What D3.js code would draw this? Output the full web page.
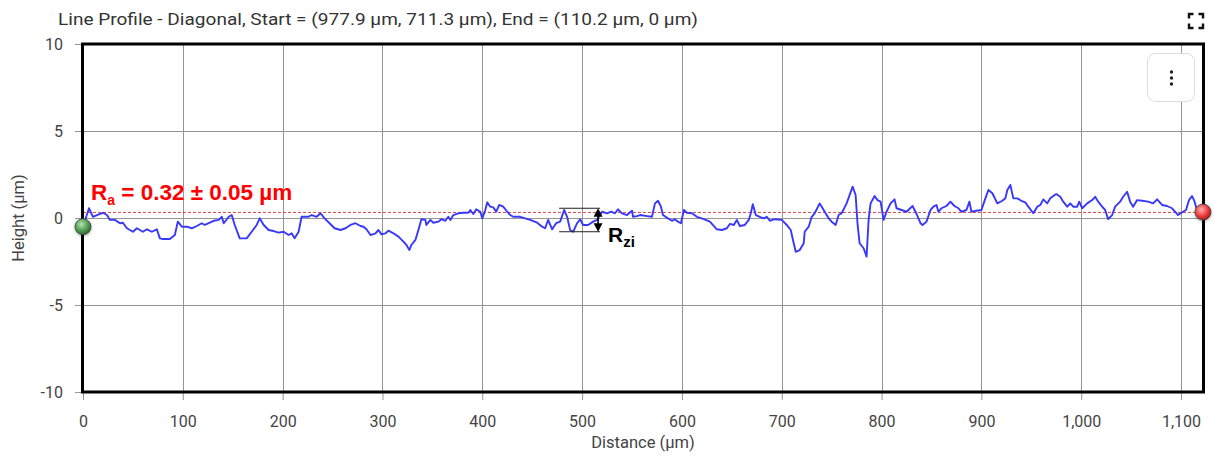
<!DOCTYPE html>
<html>
<head>
<meta charset="utf-8">
<script src="https://cdn.jsdelivr.net/npm/d3@7"></script>
<style>
  body { margin: 0; background: #fff; }
  svg { display: block; font-family: Roboto, "Liberation Sans", sans-serif; }
</style>
</head>
<body>
<svg id="chart" width="1213" height="457"></svg>
<script>
// Profile samples: distance along the diagonal (µm) and surface height (µm)
const distance = [
  0,6,10,14,20,24,27,32,37,40,44,47,50,54,57,60,64,69,74,77,80,87,92,95,99,104,109,114,119,122,
  126,131,136,139,141,146,149,152,157,164,169,174,177,181,186,191,196,201,206,209,212,216,219,226,229,234,238,242,247,252,
  258,263,268,273,278,
  281,284,288,293,296,299,303,306,311,316,321,324,327,329,333,336,339,343,344,348,
  351,356,359,363,366,368,371,376,381,386,388,391,394,398,400,403,405,408,411,414,
  417,421,425,428,431,438,443,448,455,460,463,466,470,474,478,482,485,488,491,495,
  498,501,506,511,515,520,525,529,533,536,540,545,550,551,555,558,
  565,570,573,576,579,581,586,590,593,596,599,602,605,610,615,622,628,635,640,645,
  648,652,655,658,663,667,669,671,674,678,682,685,688,693,700,705,709,712,714,718,
  722,723,727,730,733,738,740,743,747,750,754,757,760,765,771,774,776,778,782,785,
  787,789,793,796,799,802,805,809,813,815,820,825,831,834,839,
  841,845,849,852,855,857,860,865,869,873,877,880,885,888,890,895,900,904,907,911,
  916,921,924,926,929,932,936,940,944,947,952,956,959,962,966,969,972,975,979,982,
  986,989,992,996,998,1001,1006,1011,1014,1017,1021,1024,1027,1031,1034,1039,1042,1046,1049,1052,
  1056,1061,1067,1072,1076,1081,1086,1091,1094,1097,1102,1105,1108,1111,1113,1116,1119,1122
];
const height = [
  -0.50,0.56,0.07,0.17,0.30,0.17,-0.11,-0.11,-0.30,-0.27,-0.59,-0.69,-0.79,-0.59,-0.69,-0.79,-0.65,-0.79,-0.65,-1.17,
  -1.21,-1.21,-0.98,-0.21,-0.50,-0.50,-0.59,-0.46,-0.30,-0.40,-0.30,-0.16,-0.11,0.07,-0.30,0.07,0.17,-0.40,-1.17,-1.17,
  -0.79,-0.40,-0.02,-0.40,-0.69,-0.75,-0.84,-0.79,-0.98,-0.88,-1.17,-0.79,0.07,0.07,0.17,0.07,0.27,-0.02,-0.30,-0.59,
  -0.69,-0.59,-0.40,-0.30,-0.46,
  -0.50,-0.65,-0.98,-0.88,-0.69,-0.94,-0.88,-0.73,-0.88,-1.07,-1.36,-1.55,-1.84,-1.55,-1.26,-0.69,-0.07,-0.11,-0.40,-0.11,
  -0.27,-0.21,-0.07,-0.16,0.07,-0.11,0.17,0.27,0.30,0.30,0.46,0.23,0.50,0.36,-0.02,0.46,0.90,0.65,0.61,0.36,
  0.75,0.65,0.36,0.17,0.07,0.07,-0.02,-0.11,-0.27,-0.50,-0.59,-0.11,-0.65,-0.30,-0.21,0.46,0.07,-0.69,-0.79,-0.30,
  -0.07,-0.40,-0.40,-0.21,-0.11,0.36,0.27,0.36,0.27,0.50,0.27,0.17,0.42,0.07,0.11,0.17,
  0.11,0.07,0.84,0.99,0.65,0.17,-0.02,-0.16,-0.07,-0.21,-0.30,0.46,0.30,0.27,0.07,-0.07,-0.21,-0.65,-0.69,-0.59,
  -0.34,-0.40,-0.11,-0.46,-0.40,-0.11,0.27,0.79,0.17,0.07,-0.02,0.07,-0.16,-0.07,-0.11,-0.40,-0.69,-1.45,-1.94,-1.84,
  -1.45,-0.79,-0.50,0.07,0.27,0.84,0.65,0.36,-0.02,-0.21,-0.40,0.17,0.27,0.84,1.80,1.32,-0.40,-1.45,-1.74,-2.22,
  -0.11,0.84,1.26,1.03,0.94,-0.11,0.36,0.84,1.07,0.56,0.46,0.36,0.69,0.36,-0.30,
  -0.40,-0.21,0.46,0.65,0.75,0.36,0.56,0.69,0.94,0.69,0.56,0.36,0.46,0.94,0.36,0.42,0.46,1.13,1.61,1.42,
  0.84,0.99,1.13,1.61,1.90,1.13,1.13,0.99,0.90,0.65,0.27,0.65,0.75,1.07,0.84,1.13,1.26,1.38,1.22,0.94,
  0.65,0.84,0.65,0.65,0.94,0.56,0.84,1.03,1.22,0.94,0.65,0.46,-0.07,0.17,0.65,0.94,1.22,1.51,0.94,0.65,
  1.03,0.99,0.94,0.84,1.07,0.75,0.69,0.56,0.36,0.17,0.36,0.46,1.03,1.26,1.03,0.46,0.36,0.34
];

const xTicks = [0, 100, 200, 300, 400, 500, 600, 700, 800, 900, 1000, 1100];
const yTicks = [-10, -5, 0, 5, 10];
const profileLength = 1122;

// Roughness annotations
const raValue = 0.32;
const raError = 0.05;
const rziTop = 0.56;
const rziBottom = -0.79;
const rziFrom = 477;
const rziTo = 518;
const rziArrowAt = 516;

const titleText = "Line Profile - Diagonal, Start = (977.9 µm, 711.3 µm), End = (110.2 µm, 0 µm)";

const svg = d3.select("#chart");
const plot = { left: 83, right: 1203, top: 44, bottom: 392 };

const x = d3.scaleLinear().domain([0, profileLength]).range([plot.left, plot.right]);
const y = d3.scaleLinear().domain([-10, 10]).range([plot.bottom, plot.top]);

const defs = svg.append("defs");
function ballGradient(id, light, mid, dark) {
  const g = defs.append("radialGradient").attr("id", id)
    .attr("cx", "40%").attr("cy", "35%").attr("r", "65%");
  g.append("stop").attr("offset", "0%").attr("stop-color", light);
  g.append("stop").attr("offset", "55%").attr("stop-color", mid);
  g.append("stop").attr("offset", "100%").attr("stop-color", dark);
}
ballGradient("ballGreen", "#b8e0b0", "#5aa65a", "#2d6a2d");
ballGradient("ballRed", "#ffb0b0", "#f04848", "#b01818");
const glow = defs.append("filter").attr("id", "glow").attr("x", "-50%").attr("y", "-50%").attr("width", "200%").attr("height", "200%");
glow.append("feGaussianBlur").attr("in", "SourceAlpha").attr("stdDeviation", 1.6).attr("result", "b");
glow.append("feOffset").attr("in", "b").attr("dx", 0).attr("dy", 1).attr("result", "o");
glow.append("feComponentTransfer").attr("in", "o").attr("result", "s")
  .append("feFuncA").attr("type", "linear").attr("slope", 0.35);
const merge = glow.append("feMerge");
merge.append("feMergeNode").attr("in", "s");
merge.append("feMergeNode").attr("in", "SourceGraphic");

// Title
svg.append("text")
  .attr("x", 58).attr("y", 25)
  .attr("font-size", 17).attr("fill", "#333")
  .attr("textLength", 640).attr("lengthAdjust", "spacingAndGlyphs")
  .text(titleText);

// Fullscreen icon (four corner brackets)
const fs = svg.append("g").attr("fill", "none").attr("stroke", "#111").attr("stroke-width", 2.4);
[[1189, 14, 1, 1], [1203, 14, -1, 1], [1189, 28, 1, -1], [1203, 28, -1, -1]].forEach(([cx, cy, sx, sy]) => {
  fs.append("path").attr("d", `M${cx},${cy + 4.5 * sy}V${cy}H${cx + 4.5 * sx}`);
});

// Grid
const grid = svg.append("g").attr("stroke", "#959595").attr("stroke-width", 1);
grid.selectAll(".vx").data(xTicks).join("line")
  .attr("x1", d => Math.round(x(d)) + 0.5).attr("x2", d => Math.round(x(d)) + 0.5)
  .attr("y1", plot.top).attr("y2", plot.bottom);
grid.selectAll(".hy").data(yTicks).join("line")
  .attr("y1", d => Math.round(y(d)) + 0.5).attr("y2", d => Math.round(y(d)) + 0.5)
  .attr("x1", plot.left).attr("x2", plot.right);

// Axes
const xAxis = d3.axisBottom(x).tickValues(xTicks).tickFormat(d3.format(",")).tickSize(8).tickPadding(16);
const yAxis = d3.axisLeft(y).tickValues(yTicks).tickFormat(d => String(d)).tickSize(8).tickPadding(12);

const gx = svg.append("g").attr("transform", `translate(0,${plot.bottom})`).call(xAxis);
const gy = svg.append("g").attr("transform", `translate(${plot.left},0)`).call(yAxis);
[gx, gy].forEach(g => {
  g.select(".domain").remove();
  g.selectAll(".tick line").attr("stroke", "#959595");
  g.selectAll(".tick text").attr("fill", "#444").attr("font-size", 16)
    .attr("font-family", "Roboto, 'Liberation Sans', sans-serif");
});

// Axis titles
svg.append("text")
  .attr("x", (plot.left + plot.right) / 2).attr("y", 448)
  .attr("text-anchor", "middle").attr("font-size", 16.5).attr("fill", "#444")
  .text("Distance (µm)");
svg.append("text")
  .attr("transform", `translate(24,${y(0)}) rotate(-90)`)
  .attr("text-anchor", "middle").attr("font-size", 16.5).attr("fill", "#444")
  .text("Height (µm)");

// Mean roughness reference line
svg.append("line")
  .attr("x1", plot.left).attr("x2", plot.right)
  .attr("y1", y(raValue)).attr("y2", y(raValue))
  .attr("stroke", "#d01010").attr("stroke-width", 0.8).attr("stroke-dasharray", "3,2");

// Height profile
const points = distance.map((d, i) => [d, height[i]]);
svg.append("path")
  .datum(points)
  .attr("fill", "none").attr("stroke", "#3838fa").attr("stroke-width", 1.9)
  .attr("stroke-linejoin", "round").attr("stroke-linecap", "round")
  .attr("d", d3.line().x(p => x(p[0])).y(p => y(p[1])));

// Rzi bracket
const rz = svg.append("g");
rz.selectAll("line.bound").data([rziTop, rziBottom]).join("line")
  .attr("x1", x(rziFrom)).attr("x2", x(rziTo))
  .attr("y1", d => y(d)).attr("y2", d => y(d))
  .attr("stroke", "#222").attr("stroke-width", 1);
const ax = x(rziArrowAt), yt = y(rziTop), yb = y(rziBottom);
rz.append("line").attr("x1", ax).attr("x2", ax).attr("y1", yt + 6).attr("y2", yb - 6)
  .attr("stroke", "#000").attr("stroke-width", 1.6);
rz.append("path").attr("d", `M${ax},${yt}L${ax - 4.5},${yt + 8.5}L${ax + 4.5},${yt + 8.5}Z`).attr("fill", "#000");
rz.append("path").attr("d", `M${ax},${yb}L${ax - 4.5},${yb - 8.5}L${ax + 4.5},${yb - 8.5}Z`).attr("fill", "#000");
const rziLabel = rz.append("text").attr("x", ax + 10).attr("y", 242)
  .attr("font-family", "'Liberation Sans', Arial, sans-serif").attr("font-weight", "bold")
  .attr("font-size", 21).attr("fill", "#000");
rziLabel.append("tspan").text("R");
rziLabel.append("tspan").attr("font-size", 15).attr("dy", 5).text("zi");

// Ra label
const raLabel = svg.append("text").attr("x", 91).attr("y", 200)
  .attr("font-family", "'Liberation Sans', Arial, sans-serif").attr("font-weight", "bold")
  .attr("font-size", 22.5).attr("fill", "#ff0000");
raLabel.append("tspan").text("R");
raLabel.append("tspan").attr("font-size", 14).attr("dy", 5).text("a");
raLabel.append("tspan").attr("dy", -5).text(` = ${raValue.toFixed(2)} ± ${raError.toFixed(2)} µm`);

// Plot frame
svg.append("rect")
  .attr("x", plot.left - 0.5).attr("y", plot.top).attr("width", plot.right - plot.left + 1).attr("height", plot.bottom - plot.top)
  .attr("fill", "none").attr("stroke", "#000").attr("stroke-width", 3);

// Start / end handles
const ends = [
  { p: points[0], fill: "url(#ballGreen)" },
  { p: points[points.length - 1], fill: "url(#ballRed)" }
];
svg.selectAll("circle.handle").data(ends).join("circle")
  .attr("cx", d => x(d.p[0])).attr("cy", d => y(d.p[1])).attr("r", 8)
  .attr("fill", d => d.fill).attr("stroke", "#444").attr("stroke-width", 0.8)
  .attr("filter", "url(#glow)");

// Menu button
svg.append("rect").attr("x", 1147.5).attr("y", 53.5).attr("width", 47).attr("height", 48).attr("rx", 8)
  .attr("fill", "#fff").attr("stroke", "#dcdcdc");
svg.selectAll("circle.dot").data([72, 78, 84]).join("circle")
  .attr("cx", 1171.5).attr("cy", d => d).attr("r", 1.7).attr("fill", "#222");
</script>
</body>
</html>
